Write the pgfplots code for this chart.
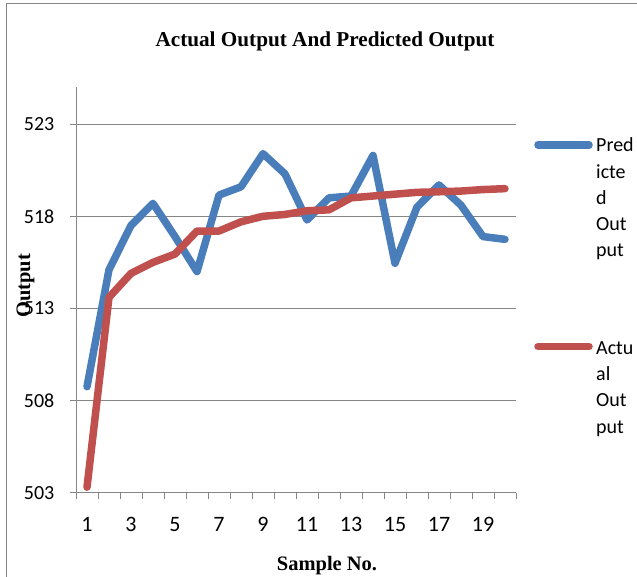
\documentclass[border=0pt]{standalone}
\usepackage{pgfplots}
\pgfplotsset{compat=1.18}
\usepackage{fontspec}
\setmainfont{Carlito}
\newfontfamily\timesfont{Liberation Serif}

\definecolor{predblue}{RGB}{74,126,187}
\definecolor{actred}{RGB}{192,80,77}
\definecolor{axgray}{RGB}{134,134,134}

% tick label faces, set as text boxes
\newcommand\yl[1]{\mbox{\fontsize{20bp}{24bp}\selectfont #1}}
\newcommand\xl[1]{\mbox{\fontsize{22bp}{26bp}\selectfont #1}}

% Predicted and actual output per sample
\pgfplotstableread{
n  pred    act
1  508.75  503.3
2  515.1   513.6
3  517.5   514.9
4  518.7   515.5
5  516.9   515.95
6  515.0   517.2
7  519.15  517.2
8  519.6   517.7
9  521.4   518.0
10 520.3   518.1
11 517.8   518.3
12 519.0   518.35
13 519.1   519.0
14 521.3   519.1
15 515.45  519.2
16 518.5   519.3
17 519.7   519.33
18 518.6   519.37
19 516.9   519.45
20 516.75  519.5
}\outputdata

\begin{document}
\begin{tikzpicture}
\begin{axis}[
  scale only axis, width=440bp, height=405.4bp,
  at={(76bp,84.3bp)}, anchor=south west,
  xmin=0.5, xmax=20.5, ymin=503, ymax=525,
  axis lines*=left,
  axis line style={axgray, line width=1bp, -},
  xtick={0.5,1.5,...,20.5}, xticklabels={},
  extra x ticks={1,3,...,19},
  extra x tick labels={\xl{1},\xl{3},\xl{5},\xl{7},\xl{9},
    \xl{11},\xl{13},\xl{15},\xl{17},\xl{19}},
  extra x tick style={major tick length=0pt, grid=none,
    xticklabel style={anchor=center, inner sep=0pt, yshift=-31.5bp}},
  ytick={503,508,513,518,523},
  yticklabels={\yl{503},\yl{508},\yl{513},\yl{518},\yl{523}},
  ymajorgrids,
  grid style={axgray, line width=1bp},
  tick align=outside, major tick length=6bp,
  tick style={axgray, line width=1bp},
  yticklabel style={anchor=east, inner sep=0pt, xshift=-15.5bp},
  clip=false,
]
\addplot[predblue, line width=7.5bp, line cap=round, line join=round] table[x=n, y=pred] {\outputdata};
\addplot[actred, line width=7.5bp, line cap=round, line join=round] table[x=n, y=act] {\outputdata};
\end{axis}

% titles
\node[anchor=base, font=\timesfont\bfseries\fontsize{21.2bp}{25bp}\selectfont] at (325bp,530bp) {Actual Output And Predicted Output};
\node[anchor=base, font=\timesfont\bfseries\fontsize{20.5bp}{24bp}\selectfont] at (327bp,7bp) {Sample No.};
\node[anchor=base, rotate=90, font=\timesfont\bfseries\fontsize{20.5bp}{24bp}\selectfont] at (30bp,291bp) {Output};

% legend
\draw[predblue, line width=7.5bp, line cap=round] (538bp,432bp) -- (589bp,432bp);
\draw[actred, line width=7.5bp, line cap=round] (538bp,230.3bp) -- (589bp,230.3bp);
\begin{scope}[every node/.style={anchor=base west, inner sep=0pt, font=\fontsize{20bp}{24bp}\selectfont}]
  \node at (596bp,425bp) {Pred};
  \node at (596bp,398.5bp) {icte};
  \node at (596bp,372bp) {d};
  \node at (596bp,346bp) {Out};
  \node at (596bp,320bp) {put};
  \node at (596bp,222bp) {Actu};
  \node at (596bp,196bp) {al};
  \node at (596bp,170bp) {Out};
  \node at (596bp,143bp) {put};
\end{scope}

% outer chart frame
\draw[axgray, line width=1.5bp] (6.7bp,-5bp) -- (6.7bp,573.5bp) -- (645bp,573.5bp);

\pgfresetboundingbox
\path[use as bounding box] (0,0) rectangle (637bp,577bp);
\end{tikzpicture}
\end{document}
